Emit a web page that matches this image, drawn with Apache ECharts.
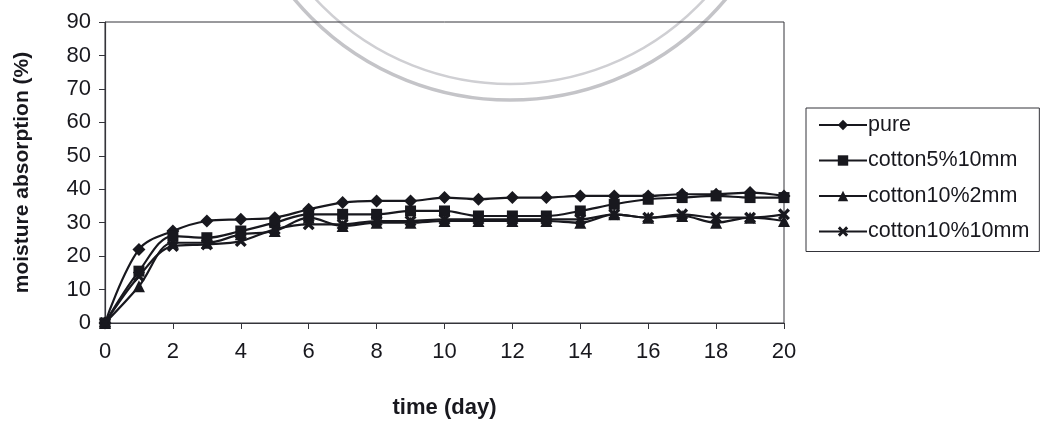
<!DOCTYPE html>
<html>
<head>
<meta charset="utf-8">
<script src="https://cdn.jsdelivr.net/npm/echarts@6/dist/echarts.min.js"></script>
<style>
  html, body { margin: 0; padding: 0; background: #ffffff; }
  #chart { width: 1042px; height: 425px; }
</style>
</head>
<body>
<div id="chart"></div>
<script>
// Moisture absorption over time for the four sample types
const days = [0, 1, 2, 3, 4, 5, 6, 7, 8, 9, 10, 11, 12, 13, 14, 15, 16, 17, 18, 19, 20];
const seriesNames = ['pure', 'cotton5%10mm', 'cotton10%2mm', 'cotton10%10mm'];
const pure        = [0, 22, 27.5, 30.5, 31, 31.5, 34, 36, 36.5, 36.5, 37.5, 37, 37.5, 37.5, 38, 38, 38, 38.5, 38.5, 39, 38];
const cotton5_10  = [0, 15.5, 26, 25.5, 27.5, 30, 32.5, 32.5, 32.5, 33.5, 33.5, 32, 32, 32, 33.5, 35.5, 37, 37.5, 38, 37.5, 37.5];
const cotton10_2  = [0, 11, 24, 24, 26.5, 27.5, 31.5, 29, 30, 30, 30.5, 30.5, 30.5, 30.5, 30, 32.5, 31.5, 32, 30, 31.5, 30.5];
const cotton10_10 = [0, 14, 23, 23.5, 24.5, 28, 29.5, 29.5, 30.5, 30.5, 31, 31, 31, 31, 31, 32.5, 31.5, 32.5, 31.5, 31.5, 32.5];
const xTicks = { min: 0, max: 20, step: 2 };
const yTicks = { min: 0, max: 90, step: 10 };

const ink = '#18181e';
const axisInk = '#34343a';
const font = 'Liberation Sans, Arial, Helvetica, sans-serif';
const crossPath = 'path://M2,0 L5,3 L8,0 L10,2 L7,5 L10,8 L8,10 L5,7 L2,10 L0,8 L3,5 L0,2 Z';
const markers = [
  { symbol: 'diamond', size: 13 },
  { symbol: 'rect', size: 11 },
  { symbol: 'triangle', size: 12 },
  { symbol: crossPath, size: 12 }
];
const values = [pure, cotton5_10, cotton10_2, cotton10_10];

const chart = echarts.init(document.getElementById('chart'), null, { renderer: 'canvas' });

const series = values.map((vals, i) => ({
  name: seriesNames[i],
  type: 'line',
  data: days.map((d, k) => [d, vals[k]]),
  smooth: 0.35,
  symbol: markers[i].symbol,
  symbolSize: markers[i].size,
  showAllSymbol: true,
  lineStyle: { color: ink, width: 2.2 },
  itemStyle: { color: ink, borderWidth: 0 },
  emphasis: { disabled: true },
  z: 3 + i
}));

chart.setOption({
  backgroundColor: '#ffffff',
  animation: false,
  // faint circular seal printed behind the chart
  graphic: [
    { type: 'circle', shape: { cx: 510, cy: -181, r: 281 }, style: { fill: 'none', stroke: '#c4c4c8', lineWidth: 3.5 }, silent: true, z: -10 },
    { type: 'circle', shape: { cx: 510, cy: -181, r: 265 }, style: { fill: 'none', stroke: '#cfcfd3', lineWidth: 2.5 }, silent: true, z: -10 }
  ],
  grid: { left: 105, right: 258, top: 22, bottom: 102, show: true, borderColor: axisInk, borderWidth: 1, backgroundColor: 'transparent' },
  legend: {
    orient: 'vertical',
    left: 806,
    top: 108,
    padding: [6, 10, 9, 12],
    itemGap: 13.5,
    itemWidth: 48,
    itemHeight: 13,
    borderColor: axisInk,
    borderWidth: 1,
    backgroundColor: '#ffffff',
    textStyle: { fontFamily: font, fontSize: 21.5, color: ink, padding: [0, 0, 0, -4] },
    data: seriesNames
  },
  xAxis: {
    type: 'value',
    min: xTicks.min,
    max: xTicks.max,
    interval: xTicks.step,
    name: 'time (day)',
    nameLocation: 'middle',
    nameGap: 74,
    nameTextStyle: { fontFamily: font, fontSize: 22, fontWeight: 'bold', color: ink },
    axisLine: { lineStyle: { color: axisInk, width: 1.2 } },
    axisTick: { show: true, inside: false, length: 6, lineStyle: { color: axisInk } },
    axisLabel: { fontFamily: font, fontSize: 22, color: ink, margin: 18 },
    splitLine: { show: false }
  },
  yAxis: {
    type: 'value',
    min: yTicks.min,
    max: yTicks.max,
    interval: yTicks.step,
    name: 'moisture absorption (%)',
    nameLocation: 'middle',
    nameGap: 72,
    nameTextStyle: { fontFamily: font, fontSize: 21, fontWeight: 'bold', color: ink },
    axisLine: { show: true, lineStyle: { color: axisInk, width: 1.2 } },
    axisTick: { show: true, inside: false, length: 6, lineStyle: { color: axisInk } },
    axisLabel: { fontFamily: font, fontSize: 22, color: ink, margin: 14 },
    splitLine: { show: false }
  },
  series: series
});
</script>
</body>
</html>
